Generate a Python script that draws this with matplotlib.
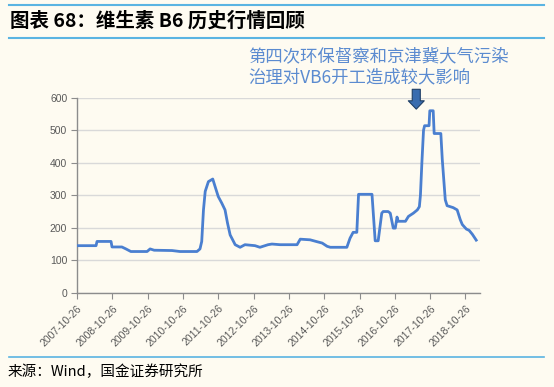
import datetime as dt
import matplotlib
matplotlib.use('Agg')
import matplotlib.pyplot as plt
from matplotlib.lines import Line2D

plt.rcParams['font.family'] = ['Liberation Sans', 'Noto Sans CJK SC', 'DejaVu Sans']

# 维生素B6 价格（元/公斤）
dates = ['2007-10-26', '2008-05-10', '2008-05-20', '2008-10-12', '2008-10-22', '2009-02-01',
         '2009-03-15', '2009-05-05', '2009-10-20', '2009-11-20', '2010-01-01', '2010-07-05',
         '2010-09-25', '2011-03-20', '2011-04-20', '2011-05-08', '2011-05-26', '2011-06-13',
         '2011-07-16', '2011-08-30', '2011-09-23', '2011-10-26', '2011-12-01', '2012-01-04',
         '2012-01-30', '2012-02-26', '2012-04-18', '2012-06-08', '2012-07-28', '2012-11-09',
         '2012-12-30', '2013-03-24', '2013-05-03', '2013-07-26', '2014-01-18', '2014-02-20',
         '2014-06-02', '2014-08-15', '2014-10-05', '2014-11-25', '2014-12-28', '2015-06-17',
         '2015-07-20', '2015-08-21', '2015-09-28', '2015-10-16', '2016-03-03', '2016-04-05',
         '2016-05-06', '2016-06-12', '2016-06-27', '2016-08-17', '2016-09-08', '2016-10-09',
         '2016-10-30', '2016-11-17', '2016-11-29', '2017-02-12', '2017-03-15', '2017-05-05',
         '2017-06-15', '2017-07-06', '2017-07-17', '2017-08-01', '2017-08-18', '2017-08-29',
         '2017-10-14', '2017-10-22', '2017-11-26', '2017-12-06', '2018-02-13', '2018-02-28',
         '2018-03-31', '2018-04-19', '2018-06-21', '2018-08-01', '2018-09-02', '2018-09-23',
         '2018-11-04', '2018-12-03', '2019-01-05', '2019-02-14']
prices = [145, 145, 158, 158, 141, 141,
          135, 127, 127, 135, 131, 130,
          127, 127, 135, 158, 255, 312,
          342, 350, 327, 296, 276, 255,
          214, 178, 148, 140, 148, 145,
          140, 148, 150, 148, 148, 165,
          163, 157, 153, 143, 140, 140,
          168, 186, 186, 303, 303, 160,
          160, 245, 250, 250, 245, 199,
          199, 233, 220, 220, 235, 245,
          255, 265, 300, 400, 500, 514,
          514, 560, 560, 490, 490, 410,
          286, 268, 262, 255, 225, 210,
          196, 192, 180, 162]
tick_dates = ['%d-10-26' % y for y in range(2007, 2019)]

title = '图表 68：维生素 B6 历史行情回顾'
note = '第四次环保督察和京津冀大气污染\n治理对VB6开工造成较大影响'
source = '来源：Wind，国金证券研究所'

x = [dt.datetime.strptime(d, '%Y-%m-%d') for d in dates]
ticks = [dt.datetime.strptime(d, '%Y-%m-%d') for d in tick_dates]

bg = '#FEFBF1'
fig = plt.figure(figsize=(5.54, 3.87), dpi=100, facecolor=bg)
ax = fig.add_axes([0.139, 0.2434, 0.7274, 0.504], facecolor=bg)

ax.plot(x, prices, color='#4A7FD0', lw=2.0, zorder=3)

ax.set_ylim(0, 600)
ax.set_yticks(range(0, 601, 100))
ax.set_xlim(ticks[0], dt.datetime(2019, 3, 25))
ax.set_xticks(ticks)
ax.set_xticklabels(tick_dates, rotation=45, ha='right', rotation_mode='anchor')
ax.grid(axis='y', color='#D9D9D9', lw=1.0, zorder=0)
for s in ['top', 'right']:
    ax.spines[s].set_visible(False)
for s in ['left', 'bottom']:
    ax.spines[s].set_color('#8C8C8C')
    ax.spines[s].set_linewidth(1.0)
ax.tick_params(axis='both', colors='#8C8C8C', labelcolor='#595959', labelsize=7.5, length=4)
ax.tick_params(axis='y', pad=3)

# 箭头与说明
ax.annotate('', xy=(dt.datetime(2017, 6, 4), 565), xytext=(dt.datetime(2017, 6, 4), 626),
            annotation_clip=False,
            arrowprops=dict(arrowstyle='simple,head_length=0.6,head_width=1.15,tail_width=0.58',
                            mutation_scale=10, fc='#3A6DAF', ec='#1F3F66', lw=0.8,
                            shrinkA=0, shrinkB=0))
fig.text(248 / 554, 1 - 47 / 387, note, color='#5B8BD0', fontsize=12.5, va='top', ha='left',
         linespacing=1.25, family=['Noto Sans CJK SC', 'DejaVu Sans'])

# 标题与来源
line_c = '#5AB4E2'
fig.add_artist(Line2D([9 / 554, 544 / 554], [1 - 5 / 387] * 2, color=line_c, lw=1.5))
fig.add_artist(Line2D([9 / 554, 544 / 554], [1 - 38 / 387] * 2, color=line_c, lw=1.5))
fig.add_artist(Line2D([9 / 554, 544 / 554], [1 - 357 / 387] * 2, color=line_c, lw=1.2))
fig.text(10 / 554, 1 - 21 / 387, title, fontsize=14, fontweight='bold', va='center', ha='left',
         family=['Noto Sans CJK SC', 'DejaVu Sans'])
fig.text(8 / 554, 1 - 372 / 387, source, fontsize=10.5, va='center', ha='left',
         family=['Noto Sans CJK SC', 'DejaVu Sans'])

fig.savefig('out.png', dpi=100, facecolor=bg)
